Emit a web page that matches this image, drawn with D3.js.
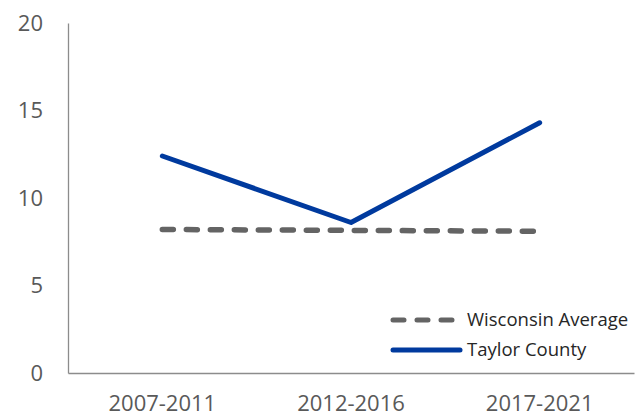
<!DOCTYPE html>
<html>
<head>
<meta charset="utf-8">
<script src="https://cdn.jsdelivr.net/npm/d3@7"></script>
<style>
  body { margin: 0; background: #fff; }
  text { font-family: "Open Sans", "Noto Sans", sans-serif; fill: #595959; }
</style>
</head>
<body>
<div id="chart"></div>
<script>
// chart data
var periods = ["2007-2011", "2012-2016", "2017-2021"];
var wisconsin = [8.2, 8.15, 8.1];
var taylor = [12.4, 8.6, 14.3];
var yTicks = [0, 5, 10, 15, 20];

var svgWidth = 643, svgHeight = 415;
var margin = { top: 23, right: 9, bottom: 42, left: 68 };
var chartWidth = svgWidth - margin.left - margin.right;
var chartHeight = svgHeight - margin.top - margin.bottom;

var svg = d3.select("#chart").append("svg")
    .attr("width", svgWidth)
    .attr("height", svgHeight);

var chartGroup = svg.append("g")
    .attr("transform", `translate(${margin.left}, ${margin.top})`);

var xScale = d3.scaleBand().domain(periods).range([0, chartWidth]);
var yScale = d3.scaleLinear().domain([0, 20]).range([chartHeight, 0]);

// y axis
var yAxis = chartGroup.append("g")
    .call(d3.axisLeft(yScale).tickValues(yTicks).tickSize(0).tickPadding(25));
yAxis.select(".domain").attr("stroke", "#8c8c8c").attr("stroke-width", 1.3);
yAxis.selectAll("text").style("font-size", "22px").attr("fill", "#595959");

// x axis
var xAxis = chartGroup.append("g")
    .attr("transform", `translate(0, ${chartHeight})`)
    .call(d3.axisBottom(xScale).tickSize(0).tickPadding(22));
xAxis.select(".domain").attr("stroke", "#8c8c8c").attr("stroke-width", 1.3);
xAxis.selectAll("text").style("font-size", "22px").attr("fill", "#595959");

var line = d3.line()
    .x(function(d, i) { return xScale(periods[i]) + xScale.bandwidth() / 2; })
    .y(function(d) { return yScale(d); });

chartGroup.append("path")
    .datum(wisconsin)
    .attr("d", line)
    .attr("fill", "none")
    .attr("stroke", "#646464")
    .attr("stroke-width", 5.5)
    .attr("stroke-linecap", "round")
    .attr("stroke-dasharray", "11,13");

chartGroup.append("path")
    .datum(taylor)
    .attr("d", line)
    .attr("fill", "none")
    .attr("stroke", "#003a9e")
    .attr("stroke-width", 5)
    .attr("stroke-linecap", "round")
    .attr("stroke-linejoin", "round");

// legend
var legend = svg.append("g");
var legendItems = [
    { name: "Wisconsin Average", color: "#646464", dash: "11,13", y: 320 },
    { name: "Taylor County", color: "#003a9e", dash: null, y: 350 }
];
legendItems.forEach(function(item) {
    legend.append("line")
        .attr("x1", 393).attr("x2", item.dash ? 455 : 460)
        .attr("y1", item.y).attr("y2", item.y)
        .attr("stroke", item.color)
        .attr("stroke-width", 5)
        .attr("stroke-linecap", "round")
        .attr("stroke-dasharray", item.dash);
    legend.append("text")
        .attr("x", 467).attr("y", item.y)
        .attr("dy", "0.35em")
        .style("font-size", "18.5px")
        .style("fill", "#262626")
        .text(item.name);
});
</script>
</body>
</html>
